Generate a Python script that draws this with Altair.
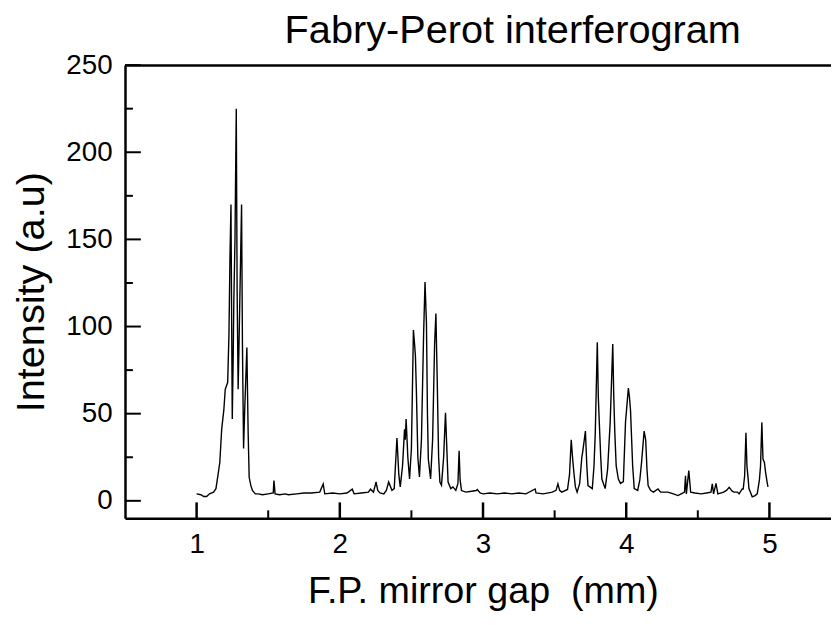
import altair as alt
import pandas as pd

# ---- data ----
gap_mm = [
    1.0, 1.03, 1.05, 1.07, 1.09, 1.118, 1.135, 1.148, 1.162, 1.175, 1.19, 1.2, 1.217, 1.226, 1.233,
    1.24, 1.245, 1.249, 1.255, 1.26, 1.268, 1.277, 1.283, 1.29, 1.295, 1.3, 1.314, 1.32, 1.328, 1.335,
    1.34, 1.351, 1.356, 1.36, 1.367, 1.379, 1.39, 1.41, 1.43, 1.46, 1.5, 1.535, 1.54, 1.548, 1.58,
    1.62, 1.64, 1.7, 1.75, 1.8, 1.86, 1.884, 1.895, 1.95, 2.0, 2.05, 2.087, 2.1, 2.15, 2.2,
    2.214, 2.235, 2.253, 2.265, 2.28, 2.307, 2.325, 2.341, 2.364, 2.38, 2.399, 2.412, 2.422, 2.438, 2.452,
    2.457, 2.463, 2.475, 2.487, 2.5, 2.514, 2.522, 2.528, 2.535, 2.545, 2.556, 2.57, 2.585, 2.595, 2.605,
    2.612, 2.618, 2.634, 2.648, 2.662, 2.671, 2.68, 2.69, 2.699, 2.71, 2.725, 2.738, 2.745, 2.756, 2.775,
    2.79, 2.81, 2.825, 2.833, 2.84, 2.85, 2.88, 2.92, 2.953, 2.96, 2.98, 3.0, 3.05, 3.1, 3.15,
    3.2, 3.25, 3.3, 3.364, 3.37, 3.42, 3.484, 3.51, 3.523, 3.535, 3.55, 3.59, 3.604, 3.616, 3.625,
    3.634, 3.645, 3.657, 3.675, 3.69, 3.696, 3.715, 3.725, 3.733, 3.763, 3.775, 3.784, 3.798, 3.805, 3.812,
    3.822, 3.83, 3.853, 3.87, 3.888, 3.906, 3.913, 3.92, 3.93, 3.945, 3.96, 3.98, 3.995, 4.015, 4.022,
    4.03, 4.045, 4.056, 4.08, 4.095, 4.107, 4.125, 4.136, 4.145, 4.153, 4.17, 4.19, 4.222, 4.24, 4.29,
    4.33, 4.361, 4.384, 4.407, 4.414, 4.42, 4.437, 4.45, 4.48, 4.523, 4.56, 4.592, 4.601, 4.61, 4.627,
    4.64, 4.68, 4.7, 4.719, 4.74, 4.753, 4.777, 4.788, 4.81, 4.817, 4.827, 4.836, 4.843, 4.85, 4.857,
    4.88, 4.9, 4.915, 4.93, 4.938, 4.947, 4.955, 4.965, 4.973, 4.984, 4.99,
]
intensity = [
    4, 3.5, 2.5, 2.5, 4, 5, 7, 14, 22, 41, 52, 64, 68, 96, 140,
    170, 100, 47, 80, 115, 150, 225, 120, 64, 85, 107, 170, 90, 30, 50,
    62, 88, 60, 39, 13.5, 8.7, 6, 4, 4, 3.5, 4, 4.5, 11.6, 4, 3.5,
    4, 3.5, 4, 4.5, 4.5, 5, 9.7, 4, 4.5, 4, 4.5, 6.7, 4, 4.5, 5,
    6.7, 5, 10.8, 6, 4.5, 4, 6, 10.8, 6, 7, 36, 15, 8, 20, 41,
    35, 47, 25, 12.5, 30, 98, 90, 83, 62, 25, 13.7, 35, 95, 125.5, 102,
    50, 24, 12.5, 35, 90, 107.5, 70, 25, 10.8, 9, 25, 50.5, 35, 10.8, 7,
    8, 6, 10, 28.7, 12, 5.9, 5, 5.5, 5.9, 6.5, 4.5, 4, 4.5, 4, 4.5,
    4, 4.5, 4, 6.8, 4.5, 4, 5, 6, 9.7, 6, 5, 6.5, 15, 35, 25,
    16.7, 8, 5, 10, 25, 28, 40, 20, 8.7, 7, 20, 39, 91, 60, 45,
    25, 12.5, 7, 18, 45, 90, 60, 40, 20, 12.5, 10, 11, 45, 64.7, 60,
    52, 20, 7, 6, 12, 22, 40, 35, 18, 8.7, 6, 5, 6.8, 5, 5,
    4, 3, 4, 5, 14.4, 4, 17.3, 5, 4.5, 4, 4.5, 5, 9.7, 4, 10,
    4, 5, 6, 7.8, 5.5, 5, 5, 4, 6.8, 6.8, 14.4, 39, 20, 14, 7,
    2.3, 3, 4, 12, 20, 45, 24, 22, 16.5, 10.6, 8,
]
y_major = [0, 50, 100, 150, 200, 250]
y_minor = [25, 75, 125, 175, 225]
x_major = [1, 2, 3, 4, 5]
x_minor = [1.5, 2.5, 3.5, 4.5]

TITLE = "Fabry-Perot interferogram"
X_TITLE = "F.P. mirror gap\u00a0 (mm)"
Y_TITLE = "Intensity (a.u)"

# ---- layout / style ----
W, H = 712, 457
FONT = "Liberation Sans"
xs = alt.Scale(domain=[0.5, 5.43], nice=False, zero=False)
ys = alt.Scale(domain=[-10, 250], nice=False, zero=False)

df = pd.DataFrame({"gap": gap_mm, "I": intensity})

line = alt.Chart(df).mark_line(color="black", strokeWidth=1.4, clip=True).encode(
    x=alt.X("gap:Q", scale=xs, axis=alt.Axis(
        orient="bottom", values=x_major, title=X_TITLE, format="d", grid=False,
        ticks=False, tickSize=0, labelPadding=13, labelFontSize=28, labelFont=FONT,
        labelColor="black", titleFontSize=38, titleFont=FONT, titleFontWeight="normal",
        titleColor="black", titlePadding=14, titleX=361, domainColor="black", domainWidth=2.5)),
    y=alt.Y("I:Q", scale=ys, axis=alt.Axis(
        orient="left", values=y_major, title=Y_TITLE, format="d", grid=False,
        ticks=False, tickSize=0, labelPadding=13, labelFontSize=28, labelFont=FONT,
        labelColor="black", titleFontSize=40, titleFont=FONT, titleFontWeight="normal",
        titleColor="black", titlePadding=14, domainColor="black", domainWidth=2.5)),
)

xmaj = alt.Chart(pd.DataFrame({"t": x_major})).mark_rule(color="black", strokeWidth=2.5).encode(
    x=alt.X("t:Q", scale=xs, axis=alt.Axis(
        orient="top", labels=False, ticks=False, tickSize=0, title=None, grid=False,
        domainColor="black", domainWidth=2.5)),
    y=alt.value(H), y2=alt.value(H - 16),
)
xmin = alt.Chart(pd.DataFrame({"t": x_minor})).mark_rule(color="black", strokeWidth=2).encode(
    x=alt.X("t:Q", scale=xs, axis=None),
    y=alt.value(H), y2=alt.value(H - 8),
)
ymaj = alt.Chart(pd.DataFrame({"v": y_major})).mark_rule(color="black", strokeWidth=2).encode(
    y=alt.Y("v:Q", scale=ys, axis=None),
    x=alt.value(0), x2=alt.value(16),
)
ymin = alt.Chart(pd.DataFrame({"v": y_minor})).mark_rule(color="black", strokeWidth=2).encode(
    y=alt.Y("v:Q", scale=ys, axis=None),
    x=alt.value(0), x2=alt.value(8),
)

chart = alt.layer(line, xmaj, xmin, ymaj, ymin).resolve_axis(
    x="independent", y="independent"
).properties(
    width=W, height=H,
    title=alt.TitleParams(TITLE, fontSize=40, font=FONT, fontWeight="normal", color="black",
                          anchor="middle", dx=35, offset=0),
    autosize=alt.AutoSizeParams(type="none"),
    padding={"left": 118, "top": 55, "right": 0, "bottom": 98},
).configure_view(stroke=None).configure(background="white")

chart.save("out.html", embed_options={"renderer": "svg", "actions": False})
